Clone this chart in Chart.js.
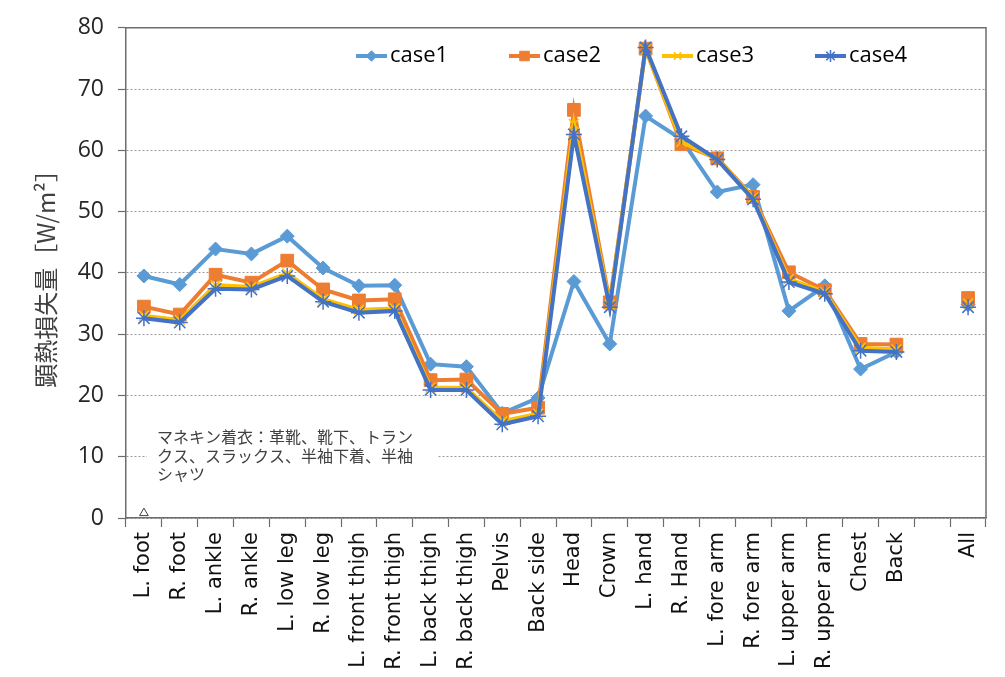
<!DOCTYPE html>
<html>
<head>
<meta charset="utf-8">
<script src="https://cdn.jsdelivr.net/npm/chart.js@4"></script>
<style>
  body { margin: 0; background: #fff; }
</style>
</head>
<body>
<canvas id="chart" width="1005" height="677"></canvas>
<script>
// body parts (the empty slot keeps "All" apart from the rest)
const categories = ['L. foot', 'R. foot', 'L. ankle', 'R. ankle', 'L. low leg', 'R. low leg',
    'L. front thigh', 'R. front thigh', 'L. back thigh', 'R. back thigh', 'Pelvis', 'Back side',
    'Head', 'Crown', 'L. hand', 'R. Hand', 'L. fore arm', 'R. fore arm', 'L. upper arm',
    'R. upper arm', 'Chest', 'Back', '', 'All'];

const case1 = [39.5, 38.1, 43.9, 43.1, 46.0, 40.8, 37.9, 38.0, 25.1, 24.7, 17.1, 19.6,
    38.6, 28.4, 65.6, 61.8, 53.2, 54.4, 33.8, 37.9, 24.3, 27.1, null, 34.8];
const case2 = [34.5, 33.2, 39.7, 38.4, 42.0, 37.3, 35.5, 35.7, 22.5, 22.6, 17.0, 18.0,
    66.6, 35.2, 76.6, 61.0, 58.7, 52.4, 40.1, 37.2, 28.4, 28.3, null, 35.9];
const case3 = [33.0, 32.3, 38.0, 37.7, 39.9, 35.7, 34.0, 34.2, 21.3, 21.2, 15.8, 17.0,
    64.3, 34.8, 76.5, 61.4, 58.6, 52.3, 39.0, 36.9, 27.8, 27.5, null, 35.0];
const case4 = [32.6, 31.9, 37.4, 37.3, 39.5, 35.3, 33.5, 33.8, 20.9, 20.9, 15.3, 16.6,
    62.6, 34.4, 76.8, 62.3, 58.5, 52.0, 38.5, 36.6, 27.3, 27.1, null, 34.4];
// stray triangle marker near the origin
const stray = [0.8, null, null, null, null, null, null, null, null, null, null, null,
    null, null, null, null, null, null, null, null, null, null, null, null];

const yTicks = [0, 10, 20, 30, 40, 50, 60, 70, 80];
const yTitle = '顕熱損失量［W/m²］';
const noteLines = ['マネキン着衣：革靴、靴下、トラン', 'クス、スラックス、半袖下着、半袖', 'シャツ'];

const axisColor = '#6d6d6d';

function series(label, data, color, style, radius, order) {
    return {
        label: label,
        data: data,
        borderColor: color,
        backgroundColor: color,
        pointBackgroundColor: color,
        pointBorderColor: color,
        borderWidth: 4,
        pointStyle: style,
        pointRadius: radius,
        pointBorderWidth: style === 'star' || style === 'crossRot' ? 1.5 : 1,
        tension: 0,
        spanGaps: false,
        order: order
    };
}

// Excel-like legend: short line with marker, drawn inside the plot
const lineLegend = {
    id: 'lineLegend',
    afterDatasetsDraw(chart) {
        const ctx = chart.ctx;
        const x0 = 356, step = 153, y = 56, len = 31;
        chart.data.datasets.forEach((ds, i) => {
            if (!ds.label) return;
            const x = x0 + step * i;
            ctx.save();
            ctx.strokeStyle = ds.borderColor;
            ctx.lineWidth = 4;
            ctx.beginPath();
            ctx.moveTo(x, y);
            ctx.lineTo(x + len, y);
            ctx.stroke();
            ctx.fillStyle = ds.borderColor;
            ctx.strokeStyle = ds.borderColor;
            ctx.lineWidth = ds.pointBorderWidth;
            Chart.helpers.drawPoint(ctx, {
                pointStyle: ds.pointStyle,
                radius: ds.pointRadius * 0.75,
                borderWidth: ds.pointBorderWidth,
                rotation: 0
            }, x + len / 2, y);
            ctx.fillStyle = '#000';
            ctx.font = '22px "Open Sans"';
            ctx.textBaseline = 'middle';
            ctx.fillText(ds.label, x + len + 3, y);
            ctx.restore();
        });
    }
};

// top and right edge of the plot area, plus the note box
const frameAndNote = {
    id: 'frameAndNote',
    beforeDatasetsDraw(chart) {
        const ctx = chart.ctx;
        const a = chart.chartArea;
        ctx.save();
        ctx.strokeStyle = axisColor;
        ctx.lineWidth = 1.5;
        ctx.beginPath();
        ctx.moveTo(a.left, a.top);
        ctx.lineTo(a.right, a.top);
        ctx.lineTo(a.right, a.bottom);
        ctx.stroke();

        ctx.fillStyle = '#fff';
        ctx.fillRect(147, 424, 290, 60);
        ctx.fillStyle = '#404040';
        ctx.font = '16px "Noto Sans CJK JP"';
        ctx.textBaseline = 'middle';
        noteLines.forEach((t, i) => ctx.fillText(t, 157, 437 + i * 18.5));
        ctx.restore();
    }
};

new Chart(document.getElementById('chart'), {
    type: 'line',
    data: {
        labels: categories,
        datasets: [
            series('case1', case1, '#5B9BD5', 'rectRot', 7, 4),
            series('case2', case2, '#ED7D31', 'rect', 9, 3),
            series('case3', case3, '#FFC000', 'crossRot', 7, 2),
            series('case4', case4, '#4472C4', 'star', 8, 1),
            {
                label: '',
                data: stray,
                showLine: false,
                pointStyle: 'triangle',
                pointRadius: 5,
                pointBackgroundColor: '#fff',
                pointBorderColor: '#404040',
                pointBorderWidth: 1,
                order: 0
            }
        ]
    },
    options: {
        responsive: false,
        animation: false,
        devicePixelRatio: 1,
        layout: { padding: { top: 22, right: 19, left: 0, bottom: 0 } },
        plugins: {
            legend: { display: false },
            tooltip: { enabled: false }
        },
        scales: {
            x: {
                offset: true,
                grid: {
                    offset: true,
                    drawOnChartArea: false,
                    drawTicks: true,
                    tickLength: 9,
                    tickColor: axisColor,
                    tickWidth: 1.2
                },
                border: { color: axisColor, width: 1.5 },
                ticks: {
                    autoSkip: false,
                    minRotation: 90,
                    maxRotation: 90,
                    padding: 5,
                    color: '#111',
                    font: { family: 'DejaVu Sans', size: 21 }
                },
                afterFit(scale) { scale.height = 159; }
            },
            y: {
                min: 0,
                max: 80,
                afterBuildTicks(scale) { scale.ticks = yTicks.map(v => ({ value: v })); },
                grid: {
                    color: '#9a9a9a',
                    lineWidth: 1,
                    tickLength: 8,
                    tickColor: axisColor,
                    tickWidth: 1.2
                },
                border: { color: axisColor, width: 1.5, dash: [2, 2] },
                ticks: {
                    padding: 14,
                    color: '#262626',
                    font: { family: 'Open Sans', size: 23 }
                },
                title: {
                    display: true,
                    text: yTitle,
                    color: '#404040',
                    font: { family: 'Noto Sans CJK JP', size: 24 },
                    padding: { top: 31, bottom: 0 }
                },
                afterFit(scale) { scale.width = 126; }
            }
        }
    },
    plugins: [frameAndNote, lineLegend]
});
</script>
</body>
</html>
